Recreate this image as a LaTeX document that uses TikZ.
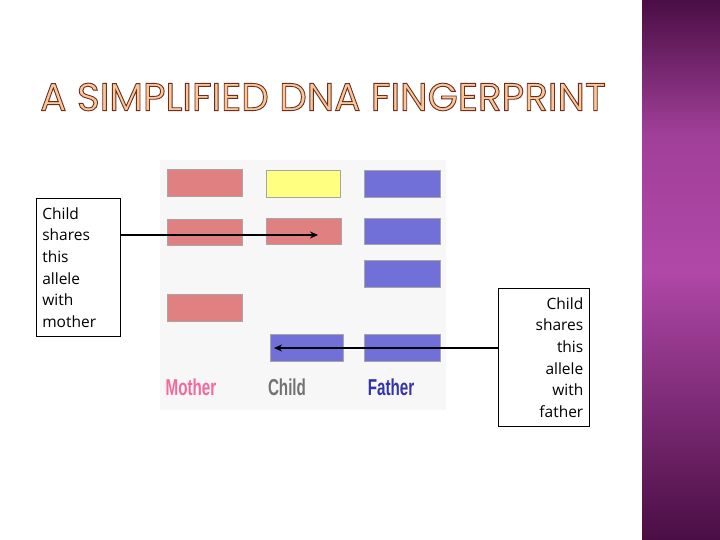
\documentclass[tikz,border=0pt]{standalone}
\usepackage{fontspec}
\setmainfont{Liberation Sans}
\newfontfamily\titlefont{Poppins}
\newfontfamily\boxfont{Open Sans}
\newfontfamily\condfont[FakeStretch=0.66]{Liberation Sans}
\usetikzlibrary{arrows.meta}
\definecolor{bandred}{HTML}{E08080}
\definecolor{bandyel}{HTML}{FFFF80}
\definecolor{bandblue}{HTML}{7070D8}
\definecolor{titlefill}{HTML}{F9C89A}
\definecolor{stripA}{HTML}{4A0E44}
\definecolor{stripB}{HTML}{B048A8}
\tikzset{
  band/.style={draw=black!35, line width=0.4pt},
  lbl/.style={font=\condfont\bfseries\fontsize{23}{23}\selectfont, inner sep=0pt},
  callout/.style={draw, line width=0.6pt, font=\boxfont\fontsize{15.5}{21.7}\selectfont, inner xsep=6pt, inner ysep=9pt},
  arr/.style={-{Stealth[length=8pt,width=7pt]}, line width=1.6pt}
}
\begin{document}
\begin{tikzpicture}[x=1pt,y=-1pt]
\useasboundingbox (0,0) rectangle (720,540);
\fill[white] (0,0) rectangle (720,540);
% right strip
\shade[top color=stripA, bottom color=stripB, middle color=stripB!85!stripA] (642,0) rectangle (720,270);
\shade[top color=stripB, bottom color=stripA] (642,270) rectangle (720,540);
% title
\node[anchor=west, inner sep=0pt, font=\titlefont\fontsize{39}{39}\selectfont, text=titlefill] (title) at (40,97)
  {\special{pdf:code q 2 Tr 0.9 w 0.42 0.18 0.12 RG}A SIMPLIFIED DNA FINGERPRINT\special{pdf:code Q}};
% gel background
\fill[black!3] (160,160) rectangle (446,410);
% mother bands
\node[band, fill=bandred, minimum width=75pt, minimum height=27pt, inner sep=0pt] (m1) at (204.5,183) {};
\node[band, fill=bandred, minimum width=75pt, minimum height=26pt, inner sep=0pt] (m2) at (204.5,232) {};
\node[band, fill=bandred, minimum width=75pt, minimum height=27pt, inner sep=0pt] (m3) at (204.5,307.5) {};
% child bands
\node[band, fill=bandyel, minimum width=74pt, minimum height=27pt, inner sep=0pt] (c1) at (303,183.5) {};
\node[band, fill=bandred, minimum width=75pt, minimum height=26pt, inner sep=0pt] (c2) at (303.5,231) {};
\node[band, fill=bandblue, minimum width=73pt, minimum height=27pt, inner sep=0pt] (c3) at (306.5,347.5) {};
% father bands
\node[band, fill=bandblue, minimum width=76pt, minimum height=27pt, inner sep=0pt] (f1) at (402,183.5) {};
\node[band, fill=bandblue, minimum width=76pt, minimum height=26pt, inner sep=0pt] (f2) at (402,231.5) {};
\node[band, fill=bandblue, minimum width=76pt, minimum height=27pt, inner sep=0pt] (f3) at (402,273.5) {};
\node[band, fill=bandblue, minimum width=76pt, minimum height=27pt, inner sep=0pt] (f4) at (402,347.5) {};
% lane labels
\node[lbl, text=magenta!70!red!60] (lm) at (191,387) {Mother};
\node[lbl, text=black!55] (lc) at (287,387) {Child};
\node[lbl, text=blue!60!black!80] (lf) at (391,387) {Father};
% callouts
\node[callout, align=left, anchor=north west, text width=72pt] (bl) at (36,198) {Child\\shares\\this\\allele\\with\\mother};
\node[callout, align=right, anchor=north west, text width=79pt] (br) at (498,288) {Child\\shares\\this\\allele\\with\\father};
\coordinate (ae1) at (318,235);
\coordinate (ae2) at (274,348);
\draw[arr] (bl.east |- ae1) -- (ae1);
\draw[arr] (br.west |- ae2) -- (ae2);
\end{tikzpicture}
\end{document}
